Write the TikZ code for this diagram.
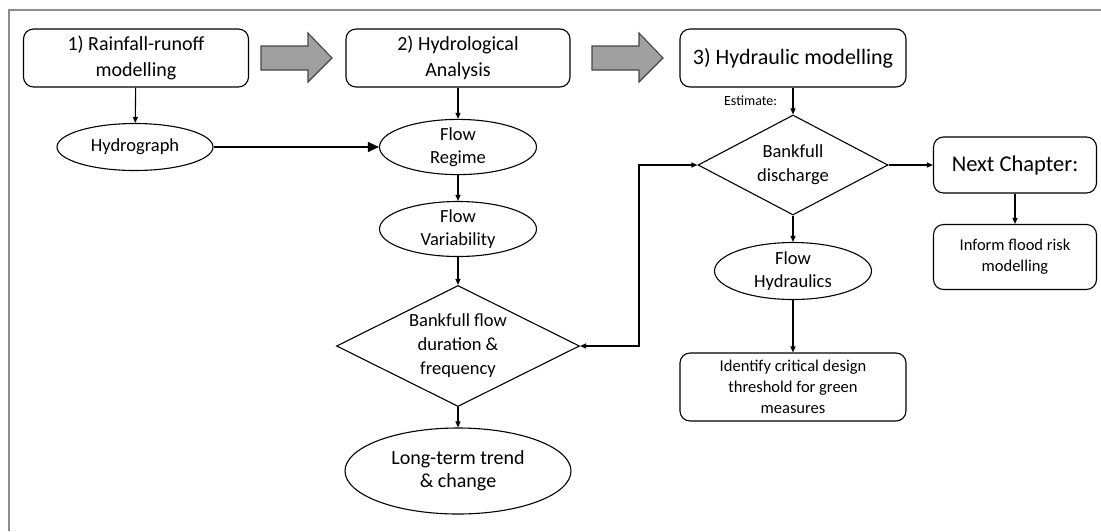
\documentclass[tikz,border=0pt]{standalone}
\usepackage{fontspec}
\setmainfont{Carlito}
\usetikzlibrary{shapes.geometric,arrows.meta}
\definecolor{framegray}{RGB}{140,140,140}
\definecolor{blockgray}{RGB}{160,160,160}
\definecolor{blockedge}{RGB}{70,70,70}
\tikzset{
	stage/.style={draw, rounded corners=10pt, align=center, inner sep=0pt, minimum height=58pt, font=\fontsize{20}{26}\selectfont},
	oval/.style={draw, ellipse, align=center, inner sep=0pt, font=\fontsize{18.5}{23}\selectfont},
	decision/.style={draw, diamond, aspect=2, align=center, inner sep=-3pt, font=\fontsize{18.5}{24}\selectfont},
	outcome/.style={draw, rounded corners=10pt, align=center, inner sep=0pt, font=\fontsize{16.5}{21}\selectfont},
	link/.style={-{Triangle[length=6pt,width=5pt]}},
	twoway/.style={{Triangle[length=6pt,width=5pt]}-{Triangle[length=6pt,width=5pt]}},
}

\begin{document}
\begin{tikzpicture}[x=1pt,y=-1pt,line width=1.1pt]
		\useasboundingbox (0,0) rectangle (1101,531);
		\draw[framegray, line width=2pt] (9,531) -- (9,9.5) -- (1101,9.5);
		% the three stages
		\node[stage, minimum width=225pt] (rain) at (136,58) {1) Rainfall-runoff\\modelling};
		\node[stage, minimum width=224pt] (hydanal) at (458,58) {2) Hydrological\\Analysis};
		\node[stage, minimum width=226pt, font=\fontsize{22}{26}\selectfont] (hydmod) at (793,58) {3) Hydraulic modelling};
		\foreach \xs in {261,592}
			\draw[blockedge, fill=blockgray] (\xs,46) -- ++(47,0) -- ++(0,-13) -- ++(24,25) -- ++(-24,24) -- ++(0,-12) -- ++(-47,0) -- cycle;
		% hydrological analysis
		\node[oval, minimum width=156pt, minimum height=47pt] (hydro) at (135,147) {Hydrograph};
		\node[oval, minimum width=157pt, minimum height=55pt] (regime) at (458,147) {Flow\\Regime};
		\node[oval, minimum width=157pt, minimum height=55pt] (variab) at (458,229) {Flow\\Variability};
		\node[decision, minimum width=243pt, minimum height=121pt] (bfflow) at (458,346) {Bankfull flow\\duration \&\\frequency};
		\node[oval, minimum width=226pt, minimum height=86pt, font=\fontsize{20}{23}\selectfont] (trend) at (458,471) {Long-term trend\\\& change};
		% hydraulic modelling
		\node[decision, minimum width=190pt, minimum height=100pt] (bfdis) at (793,165) {Bankfull\\discharge};
		\node[oval, minimum width=157pt, minimum height=57pt] (hydraul) at (793,271) {Flow\\Hydraulics};
		\node[outcome, minimum width=226pt, minimum height=68pt] (identify) at (793,387) {Identify critical design\\threshold for green\\measures};
		\node[stage, minimum width=163pt, minimum height=56pt, font=\fontsize{22.5}{26}\selectfont] (nextch) at (1015,165) {Next Chapter:};
		\node[outcome, minimum width=163pt, minimum height=65pt] (inform) at (1015,257) {Inform flood risk\\modelling};
		\coordinate (loopx) at (639,0);
		% connectors
		\draw[link] (rain) -- (hydro);
		\draw[-{Triangle[length=11pt,width=10pt]}] (hydro) -- (regime);
		\draw[link] (hydanal) -- (regime);
		\draw[link] (regime) -- (variab);
		\draw[link] (variab) -- (bfflow);
		\draw[link] (bfflow) -- (trend);
		\draw[link] (hydmod) -- node[left, xshift=-12pt, font=\fontsize{14}{16}\selectfont] (estimate) {Estimate:} (bfdis);
		\draw[twoway] (bfflow.east) -- (bfflow.east -| loopx) |- (bfdis.west);
		\draw[link] (bfdis) -- (nextch);
		\draw[link] (nextch) -- (inform);
		\draw[link] (bfdis) -- (hydraul);
		\draw[link] (hydraul) -- (identify);
	\end{tikzpicture}
\end{document}
